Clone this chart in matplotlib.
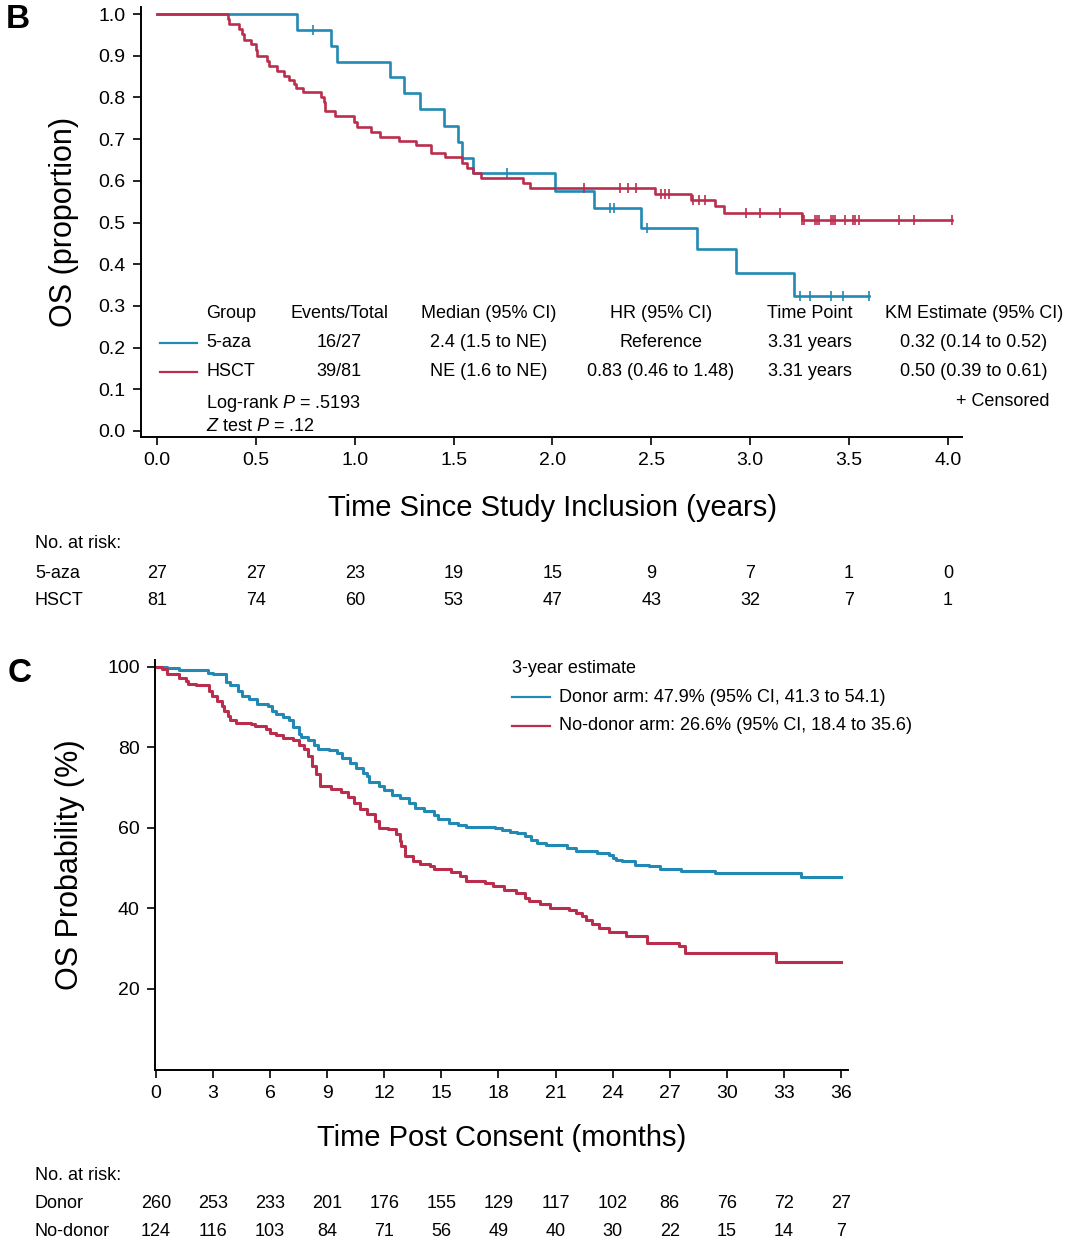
import numpy as np
import matplotlib
matplotlib.use('Agg')
import matplotlib.pyplot as plt
from matplotlib.transforms import blended_transform_factory

# %% DATA

# panel B: 5-aza vs HSCT, OS proportion vs years
aza_times = [0.71, 0.88, 0.91, 1.18, 1.25, 1.33, 1.45, 1.52, 1.54, 1.60,
             2.015, 2.21, 2.45, 2.73, 2.93, 3.22]
aza_surv = [0.963, 0.924, 0.886, 0.848, 0.810, 0.772, 0.732, 0.694, 0.656, 0.618,
            0.576, 0.534, 0.488, 0.436, 0.378, 0.324]
aza_censor = [0.79, 1.77, 2.29, 2.31, 2.48, 3.25, 3.30, 3.41, 3.47, 3.60]
aza_end = 3.60

hsct_times = [0.357, 0.365, 0.416, 0.429, 0.438, 0.475, 0.50, 0.508, 0.554, 0.564,
              0.609, 0.64, 0.668, 0.694, 0.702, 0.736, 0.828, 0.842, 0.85, 0.90,
              0.997, 1.013, 1.08, 1.13, 1.224, 1.308, 1.384, 1.455, 1.544, 1.57,
              1.60, 1.64, 1.85, 1.885, 2.52, 2.70, 2.82, 2.865, 3.26]
hsct_surv = [0.988, 0.976, 0.964, 0.952, 0.938, 0.928, 0.914, 0.900, 0.888, 0.876,
             0.864, 0.852, 0.842, 0.832, 0.823, 0.814, 0.800, 0.788, 0.768, 0.756,
             0.742, 0.728, 0.718, 0.706, 0.696, 0.687, 0.667, 0.658, 0.642, 0.632,
             0.619, 0.606, 0.596, 0.582, 0.568, 0.554, 0.540, 0.523, 0.506]
hsct_censor = [2.16, 2.34, 2.38, 2.42, 2.55, 2.57, 2.59, 2.71, 2.74, 2.77, 2.98,
               3.05, 3.15, 3.26, 3.27, 3.33, 3.34, 3.35, 3.41, 3.42, 3.43, 3.48,
               3.52, 3.53, 3.55, 3.75, 3.83, 4.02]
hsct_end = 4.02

b_risk_times = [0, 0.5, 1.0, 1.5, 2.0, 2.5, 3.0, 3.5, 4.0]
b_risk_aza = [27, 27, 23, 19, 15, 9, 7, 1, 0]
b_risk_hsct = [81, 74, 60, 53, 47, 43, 32, 7, 1]

b_table_header = ['Group', 'Events/Total', 'Median (95% CI)', 'HR (95% CI)',
                  'Time Point', 'KM Estimate (95% CI)']
b_table_aza = ['5-aza', '16/27', '2.4 (1.5 to NE)', 'Reference', '3.31 years',
               '0.32 (0.14 to 0.52)']
b_table_hsct = ['HSCT', '39/81', 'NE (1.6 to NE)', '0.83 (0.46 to 1.48)', '3.31 years',
                '0.50 (0.39 to 0.61)']

# panel C: donor vs no-donor, OS % vs months
donor_times = [0.6, 1.2, 2.75, 3.0, 3.7, 3.9, 4.3, 4.5, 4.9, 5.3, 5.9, 6.1, 6.3, 6.7,
               7.0, 7.2, 7.5, 7.6, 8.0, 8.3, 8.5, 9.1, 9.5, 9.8, 10.2, 10.5, 10.9,
               11.1, 11.2, 11.7, 12.0, 12.4, 12.8, 13.3, 13.6, 14.1, 14.6, 14.8,
               15.4, 15.9, 16.3, 17.8, 18.2, 18.6, 19.0, 19.4, 19.7, 20.0, 20.5,
               21.6, 22.1, 23.2, 23.8, 24.0, 24.2, 24.5, 25.2, 25.9, 26.5, 27.6,
               29.4, 33.9]
donor_surv = [99.7, 99.3, 98.5, 98.1, 96.3, 95.5, 94.0, 92.8, 92.0, 90.8, 90.3, 89.1,
              88.3, 87.5, 86.7, 85.0, 83.4, 82.6, 81.8, 80.6, 79.7, 79.3, 78.5, 77.3,
              76.0, 74.8, 73.6, 72.8, 71.5, 70.3, 69.5, 68.2, 67.4, 66.2, 65.0, 64.1,
              63.3, 62.1, 61.3, 60.8, 60.3, 59.9, 59.5, 59.1, 58.7, 57.9, 57.0, 56.2,
              55.8, 55.0, 54.2, 53.8, 53.3, 52.5, 52.1, 51.7, 50.9, 50.5, 49.8, 49.3,
              48.7, 47.9]

nodonor_times = [0.3, 0.6, 1.2, 1.6, 1.7, 2.1, 2.8, 2.97, 3.2, 3.45, 3.6, 3.8, 3.9,
                 4.2, 5.0, 5.2, 5.8, 6.0, 6.3, 6.7, 7.2, 7.5, 7.8, 8.0, 8.2, 8.4, 8.6,
                 9.2, 9.7, 10.1, 10.4, 10.7, 11.1, 11.5, 11.7, 12.2, 12.6, 12.8, 12.9,
                 13.1, 13.5, 13.9, 14.4, 14.6, 15.5, 16.0, 16.3, 17.3, 17.7, 18.3,
                 18.9, 19.4, 19.6, 20.2, 20.7, 21.7, 22.1, 22.4, 22.6, 22.9, 23.3,
                 23.8, 24.7, 25.8, 27.5, 27.8, 32.6]
nodonor_surv = [99.4, 98.3, 97.3, 96.6, 95.8, 95.4, 93.9, 92.7, 91.4, 90.2, 89.0,
                87.7, 86.9, 86.1, 85.7, 85.3, 84.6, 83.6, 83.0, 82.4, 81.8, 80.5,
                79.5, 77.9, 75.4, 73.3, 70.4, 69.6, 68.8, 67.6, 66.3, 64.7, 63.5,
                61.8, 60.1, 59.7, 58.5, 56.8, 55.6, 53.1, 51.9, 51.0, 50.6, 49.8,
                49.0, 48.0, 46.9, 46.3, 45.5, 44.6, 43.8, 42.6, 41.8, 41.0, 40.1,
                39.7, 38.9, 38.1, 37.2, 36.2, 35.2, 34.2, 33.1, 31.4, 30.6, 28.9,
                26.6]
c_end = 36.0

c_risk_times = [0, 3, 6, 9, 12, 15, 18, 21, 24, 27, 30, 33, 36]
c_risk_donor = [260, 253, 233, 201, 176, 155, 129, 117, 102, 86, 76, 72, 27]
c_risk_nodonor = [124, 116, 103, 84, 71, 56, 49, 40, 30, 22, 15, 14, 7]

c_legend = ['Donor arm: 47.9% (95% CI, 41.3 to 54.1)',
            'No-donor arm: 26.6% (95% CI, 18.4 to 35.6)']

# %% STYLE

BLUE = '#2189b4'
RED = '#bb2d4c'
W, H = 1080, 1255
BODY = ['Liberation Sans', 'DejaVu Sans']

plt.rcParams['font.family'] = BODY
plt.rcParams['font.size'] = 13
plt.rcParams['mathtext.fontset'] = 'custom'
plt.rcParams['mathtext.rm'] = 'Liberation Sans'
plt.rcParams['mathtext.it'] = 'Liberation Sans:italic'


def fx(px):
    return px / W


def fy(py):
    return 1 - py / H


def step_xy(times, surv, start, end):
    """build step coordinates starting at `start` until `end`"""
    x = np.concatenate([[0.0], times, [end]])
    y = np.concatenate([[start], surv, [surv[-1]]])
    return x, y


def level_at(t, times, surv, start):
    idx = np.searchsorted(times, t, side='right')
    levels = np.concatenate([[start], surv])
    return levels[idx]


def style_axes(ax):
    for side in ('top', 'right'):
        ax.spines[side].set_visible(False)
    for side in ('left', 'bottom'):
        ax.spines[side].set_linewidth(1.4)
    ax.tick_params(direction='out', length=6, width=1.2, labelsize=14, pad=5)


def main():
    fig = plt.figure(figsize=(W / 100, H / 100), dpi=100)

    # ---------------- panel B ----------------
    axb = fig.add_axes([fx(141), fy(437), fx(962 - 141), (437 - 7) / H])
    style_axes(axb)

    for times, surv, cens, end, col in [
            (aza_times, aza_surv, aza_censor, aza_end, BLUE),
            (hsct_times, hsct_surv, hsct_censor, hsct_end, RED)]:
        x, y = step_xy(np.array(times), np.array(surv), 1.0, end)
        axb.step(x, y, where='post', color=col, lw=1.9)
        cy = level_at(np.array(cens), np.array(times), np.array(surv), 1.0)
        axb.plot(cens, cy, ls='none', marker='|', ms=7, mew=1.2, color=col)

    axb.set_xlim(-0.081, 4.071)
    axb.set_ylim(-0.0144, 1.017)
    axb.set_xticks(b_risk_times)
    axb.set_xticklabels([f'{v:.1f}' for v in b_risk_times])
    axb.set_yticks(np.arange(0, 1.01, 0.1))
    axb.set_yticklabels([f'{v:.1f}' for v in np.arange(0, 1.01, 0.1)])
    axb.set_ylabel('OS (proportion)', fontsize=22, labelpad=14)
    fig.text(fx(552), fy(508), 'Time Since Study Inclusion (years)',
             fontsize=21, ha='center', va='center')

    # summary table inside panel B
    col_x = [206, 339, 489, 661, 810, 974]
    col_ha = ['left', 'center', 'center', 'center', 'center', 'center']
    for row, ypx in [(b_table_header, 314), (b_table_aza, 343), (b_table_hsct, 372)]:
        for txt, xpx, ha in zip(row, col_x, col_ha):
            fig.text(fx(xpx), fy(ypx), txt, ha=ha, va='center', fontsize=13)
    for ypx, col in [(343, BLUE), (372, RED)]:
        fig.add_artist(plt.Line2D([fx(160), fx(197)], [fy(ypx), fy(ypx)],
                                  color=col, lw=1.6))
    fig.text(fx(1050), fy(401), '+ Censored', ha='right', va='center', fontsize=13)
    fig.text(fx(206), fy(404), 'Log-rank $\\it{P}$ = .5193', ha='left', va='center',
             fontsize=13)
    fig.text(fx(206), fy(426), '$\\it{Z}$ test $\\it{P}$ = .12', ha='left', va='center',
             fontsize=13)

    # number at risk for panel B
    trb = blended_transform_factory(axb.transData, fig.transFigure)
    fig.text(fx(35), fy(544), 'No. at risk:', ha='left', va='center', fontsize=13)
    for name, vals, ypx in [('5-aza', b_risk_aza, 573), ('HSCT', b_risk_hsct, 601)]:
        fig.text(fx(35), fy(ypx), name, ha='left', va='center', fontsize=13)
        for t, v in zip(b_risk_times, vals):
            axb.text(t, fy(ypx), str(v), transform=trb, ha='center', va='center',
                     fontsize=13, clip_on=False)

    fig.text(fx(6), fy(20), 'B', fontsize=24, fontweight='bold', ha='left', va='center')

    # ---------------- panel C ----------------
    axc = fig.add_axes([fx(155), fy(1069.5), fx(848 - 155), (1069.5 - 660) / H])
    style_axes(axc)

    for times, surv, col in [(donor_times, donor_surv, BLUE),
                             (nodonor_times, nodonor_surv, RED)]:
        x, y = step_xy(np.array(times), np.array(surv), 100.0, c_end)
        axc.step(x, y, where='post', color=col, lw=2.2)

    axc.set_xlim(-0.05, 36.37)
    axc.set_ylim(0, 101.7)
    axc.set_xticks(c_risk_times)
    axc.set_yticks([20, 40, 60, 80, 100])
    axc.set_ylabel('OS Probability (%)', fontsize=22, labelpad=16)
    fig.text(fx(502), fy(1138), 'Time Post Consent (months)',
             fontsize=21, ha='center', va='center')

    fig.text(fx(512), fy(669), '3-year estimate', ha='left', va='center', fontsize=13)
    for txt, ypx, col in [(c_legend[0], 697, BLUE), (c_legend[1], 726, RED)]:
        fig.add_artist(plt.Line2D([fx(512), fx(550)], [fy(ypx), fy(ypx)],
                                  color=col, lw=1.6))
        fig.text(fx(559), fy(ypx), txt, ha='left', va='center', fontsize=13)

    trc = blended_transform_factory(axc.transData, fig.transFigure)
    fig.text(fx(35), fy(1175), 'No. at risk:', ha='left', va='center', fontsize=13)
    for name, vals, ypx in [('Donor', c_risk_donor, 1203),
                            ('No-donor', c_risk_nodonor, 1232)]:
        fig.text(fx(35), fy(ypx), name, ha='left', va='center', fontsize=13)
        for t, v in zip(c_risk_times, vals):
            axc.text(t, fy(ypx), str(v), transform=trc, ha='center', va='center',
                     fontsize=13, clip_on=False)

    fig.text(fx(8), fy(673), 'C', fontsize=24, fontweight='bold', ha='left', va='center')

    fig.savefig('out.png', dpi=100)
    return 0


# %% MAIN EXECUTION
if __name__ == "__main__":
    main()
